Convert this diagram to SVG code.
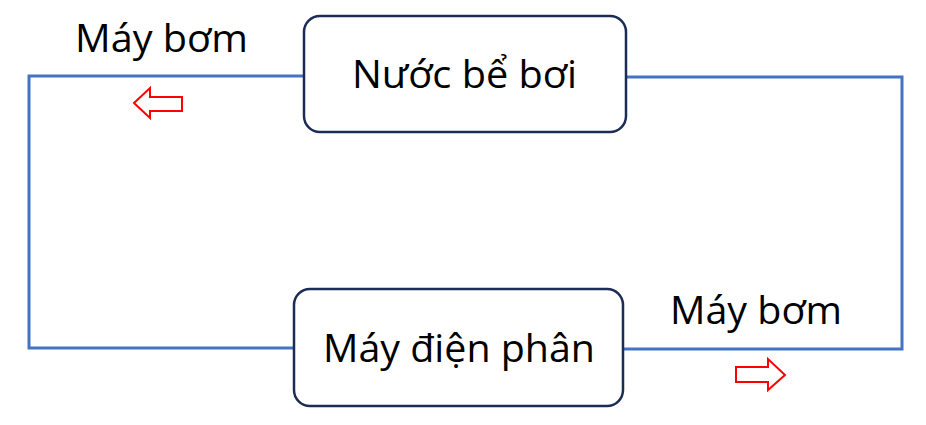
<svg xmlns="http://www.w3.org/2000/svg" width="926" height="425" viewBox="0 0 926 425">
<style>
.box{fill:#fff;stroke:#1c2d55;stroke-width:2.5}
.wire{fill:none;stroke:#4472c4;stroke-width:3}
.lbl{font-family:"Open Sans","Noto Sans","Liberation Sans",sans-serif;font-size:37.5px;fill:#000}
.arr{fill:#fff;stroke:#ff0000;stroke-width:2}
</style>
<rect width="926" height="425" fill="#fff"/>
<g id="connectors">
<polyline class="wire" points="304,76 29,76 29,348 294,348"/>
<polyline class="wire" points="626,77 902,77 902,349 623,349"/>
<polygon class="arr" points="134,103 150,88 150,97 182,97 182,111 150,111 150,118"/>
<polygon class="arr" points="785,375 768,359 768,367 736,367 736,382 768,382 768,390"/>
</g>
<g id="label-top">
<text class="lbl" x="75" y="52" textLength="173" lengthAdjust="spacingAndGlyphs">Máy bơm</text>
</g>
<g id="label-bottom">
<text class="lbl" x="670" y="324" textLength="172" lengthAdjust="spacingAndGlyphs">Máy bơm</text>
</g>
<g id="node-pool">
<rect class="box" x="304" y="16" width="322" height="116" rx="16"/>
<text class="lbl" x="352" y="88" textLength="225" lengthAdjust="spacingAndGlyphs">Nước bể bơi</text>
</g>
<g id="node-electrolysis">
<rect class="box" x="294" y="289" width="329" height="117" rx="16"/>
<text class="lbl" x="323" y="362" textLength="272" lengthAdjust="spacingAndGlyphs">Máy điện phân</text>
</g>
</svg>
